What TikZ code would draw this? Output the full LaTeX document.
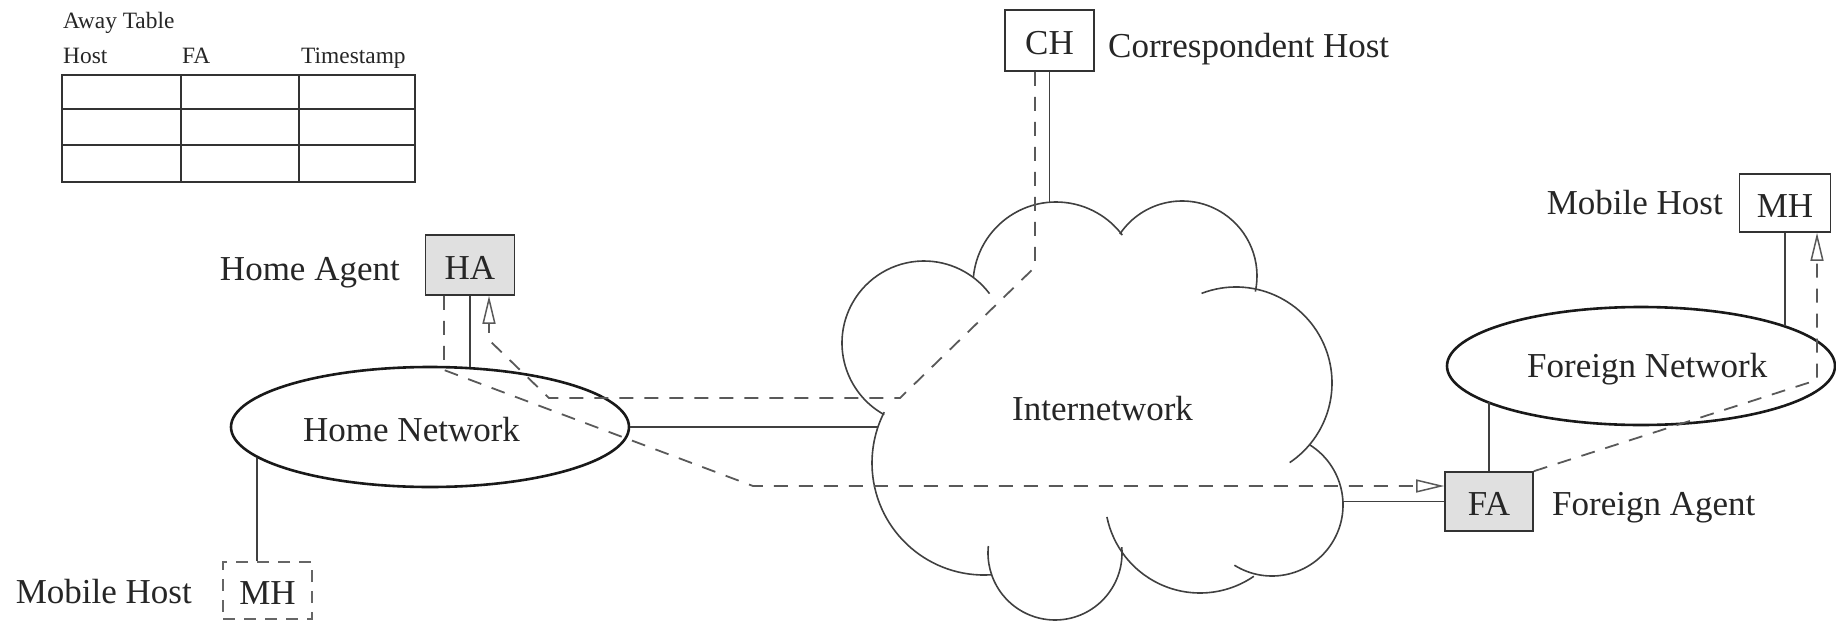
\documentclass[tikz,border=0pt]{standalone}
\usepackage{fontspec}
\setmainfont{Liberation Serif}
\usetikzlibrary{arrows.meta,shapes.geometric}
\begin{document}
\begin{tikzpicture}[x=1pt,y=-1pt,
  big/.style={font=\fontsize{35}{40}\selectfont, inner sep=0pt, text=black!85},
  small/.style={font=\fontsize{23.4}{28}\selectfont, inner sep=0pt, text=black!85},
  hostbox/.style={draw=black!80, line width=1.6pt, rectangle, inner sep=0pt,
    minimum width=89pt, minimum height=60pt, text height=28pt, text depth=0pt,
    font=\fontsize{35}{40}\selectfont, text=black!85},
  agentbox/.style={hostbox, fill=black!12},
  awaybox/.style={hostbox, draw=black!60, dash pattern=on 12pt off 9pt},
  net/.style={draw=black!90, line width=2.6pt, ellipse, inner sep=0pt},
  link/.style={draw=black!75, line width=1.6pt},
  cloudarc/.style={draw=black!75, line width=1.6pt},
  gridline/.style={draw=black!80, line width=1.8pt},
  tunnel/.style={draw=black!65, line width=1.8pt, dash pattern=on 14pt off 11pt,
    -{Triangle[open, length=28pt, width=13pt, line width=1.5pt]}}
]
\useasboundingbox (0,0) rectangle (1836,621);

% ---------- Away table ----------
\node[small, anchor=base west] (awaytitle) at (63,28) {Away Table};
\node[small, anchor=base west] (colhost) at (63,63) {Host};
\node[small, anchor=base west] (colfa) at (182,63) {FA};
\node[small, anchor=base west] (colts) at (301,63) {Timestamp};
\draw[gridline] (62,75) rectangle (415,182);
\draw[gridline] (62,109) -- (415,109);
\draw[gridline] (62,145) -- (415,145);
\draw[gridline] (181,75) -- (181,182);
\draw[gridline] (299,75) -- (299,182);

% ---------- Cloud ----------
\draw[cloudarc] (924,343) ++(119:82) arc[start angle=119, end angle=323, radius=82];
\draw[cloudarc] (1056,285) ++(185.5:83) arc[start angle=185.5, end angle=323, radius=83];
\draw[cloudarc] (1182,276) ++(214:75) arc[start angle=214, end angle=372, radius=75];
\draw[cloudarc] (1236,383) ++(249:96) arc[start angle=249, end angle=416, radius=96];
\draw[cloudarc] (1272,505) ++(302:71) arc[start angle=302, end angle=482, radius=71];
\draw[cloudarc] (1200,498) ++(55.5:95) arc[start angle=55.5, end angle=168.5, radius=95];
\draw[cloudarc] (1055,553) ++(-5:67) arc[start angle=-5, end angle=186, radius=67];
\draw[cloudarc] (984,463) ++(86:112) arc[start angle=86, end angle=207, radius=112];
\node[big, anchor=base west] (inet) at (1012,420) {Internetwork};
\coordinate (cloudN) at (1049,202);
\coordinate (cloudW) at (878,427);
\coordinate (cloudE) at (1343,502);

% ---------- Networks ----------
\node[net, minimum width=398pt, minimum height=120pt] (homenet) at (430,427) {};
\node[big, anchor=base west] (homelabel) at (303,441) {Home Network};
\node[net, minimum width=388pt, minimum height=118pt] (foreignnet) at (1641,366) {};
\node[big, anchor=base west] (foreignlabel) at (1527,377) {Foreign Network};

% ---------- Hosts and agents ----------
\node[hostbox, minimum height=61pt] (CH) at (1049.5,40.5) {CH};
\node[big, anchor=base west] (chlabel) at (1108,57) {Correspondent Host};

\node[agentbox] (HA) at (470,265) {HA};
\node[big, anchor=base east] (halabel) at (400,280) {Home Agent};

\node[awaybox, minimum height=57pt] (MHh) at (267.5,590.5) {MH};
\node[big, anchor=base east] (mhhlabel) at (192,603) {Mobile Host};

\node[hostbox, minimum width=91pt, minimum height=58pt] (MHr) at (1785,203) {MH};
\node[big, anchor=base east] (mhrlabel) at (1723,214) {Mobile Host};

\node[agentbox, minimum width=88pt, minimum height=59pt] (FA) at (1489,501.5) {FA};
\node[big, anchor=base west] (falabel) at (1552,515) {Foreign Agent};

% ---------- Solid links ----------
\draw[link] (HA.south) -- (HA.south |- homenet.56);
\draw[link] ([xshift=-10.5pt]MHh.north) -- ([xshift=-10.5pt]MHh.north |- homenet.190);
\draw[link] (homenet.east) -- (homenet.east -| cloudW);
\draw[link] (CH.south) -- (CH.south |- cloudN);
\draw[link] (MHr.south) -- (MHr.south |- foreignnet.15.3);
\draw[link] (FA.north) -- (FA.north |- foreignnet.193.6);
\draw[link] (FA.west -| cloudE) -- (FA.west);

% ---------- Dashed routes ----------
\coordinate (r1) at (1035,267);
\coordinate (r2) at (900,398);
\coordinate (r3) at (549,398);
\coordinate (r4) at (489,340);
\draw[tunnel] (CH.south -| r1) -- (r1) -- (r2) -- (r3) -- (r4) -- (r4 |- HA.south);

\coordinate (t1) at (444,370);
\coordinate (t2) at (753,486);
\draw[tunnel] (HA.south -| t1) -- (t1) -- (t2) -- (t2 -| FA.west);

\coordinate (m1) at (1817,380);
\draw[tunnel] (FA.north east) -- (m1) -- (m1 |- MHr.south);
\end{tikzpicture}
\end{document}
